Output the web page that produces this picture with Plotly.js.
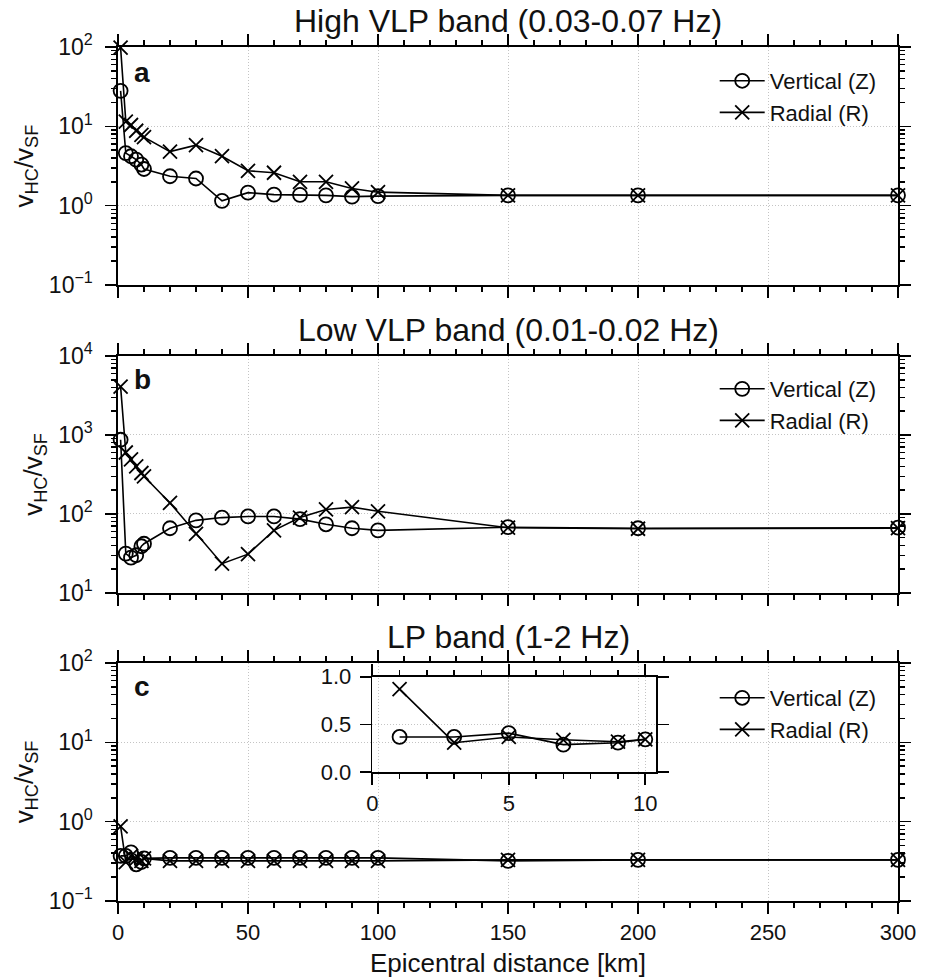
<!DOCTYPE html>
<html>
<head>
<meta charset="utf-8">
<script src="https://cdn.plot.ly/plotly-3.0.1.min.js"></script>
<style>html,body{margin:0;padding:0;background:#fff;}#chart{width:927px;height:980px;}</style>
</head>
<body>
<div id="chart"></div>
<script>
// ---- data ----
const distance = [1, 3, 5, 7, 9, 10, 20, 30, 40, 50, 60, 70, 80, 90, 100, 150, 200, 300];
const insetDistance = [1, 3, 5, 7, 9, 10];

const highVertical = [28, 4.6, 4.2, 3.8, 3.3, 2.9, 2.35, 2.2, 1.15, 1.46, 1.38, 1.37, 1.35, 1.3, 1.32, 1.35, 1.35, 1.35];
const highRadial   = [98, 11.5, 10.4, 8.8, 7.8, 7.3, 4.8, 5.8, 4.2, 2.75, 2.6, 2.0, 2.0, 1.65, 1.48, 1.35, 1.35, 1.35];

const lowVertical = [870, 31.5, 28, 30, 39, 42, 66, 83, 90, 93, 93, 86, 74, 66, 62, 68, 66, 67];
const lowRadial   = [4100, 600, 490, 400, 330, 300, 138, 56, 23.5, 31, 62, 90, 114, 122, 108, 67, 65, 66];

const lpVertical = [0.37, 0.37, 0.41, 0.29, 0.31, 0.345, 0.35, 0.35, 0.35, 0.35, 0.35, 0.35, 0.35, 0.35, 0.35, 0.32, 0.33, 0.33];
const lpRadial   = [0.87, 0.31, 0.37, 0.34, 0.32, 0.345, 0.32, 0.32, 0.32, 0.32, 0.32, 0.32, 0.32, 0.32, 0.32, 0.33, 0.33, 0.33];

const insetVertical = [0.37, 0.37, 0.41, 0.29, 0.31, 0.345];
const insetRadial   = [0.87, 0.31, 0.37, 0.34, 0.32, 0.345];

const seriesNames = ['Vertical (Z)', 'Radial (R)'];
const panelTitles = ['High VLP band (0.03-0.07 Hz)', 'Low VLP band (0.01-0.02 Hz)', 'LP band (1-2 Hz)'];
const panelLetters = ['a', 'b', 'c'];

const xTickVals = [0, 50, 100, 150, 200, 250, 300];
const xTickText = ['0', '50', '100', '150', '200', '250', '300'];
const xMinorTickVals = [10, 20, 30, 40, 60, 70, 80, 90, 110, 120, 130, 140, 160, 170, 180, 190, 210, 220, 230, 240, 260, 270, 280, 290];
const yTickValsA = [0.1, 1, 10, 100];
const yTickTextA = ['10<sup>\u22121</sup>', '10<sup>0</sup>', '10<sup>1</sup>', '10<sup>2</sup>'];
const yTickValsB = [10, 100, 1000, 10000];
const yTickTextB = ['10<sup>1</sup>', '10<sup>2</sup>', '10<sup>3</sup>', '10<sup>4</sup>'];
const minorDigits = [2, 3, 4, 5, 6, 7, 8, 9];
const insetXTickVals = [0, 5, 10];
const insetXTickText = ['0', '5', '10'];
const insetXMinorTickVals = [1, 2, 3, 4, 6, 7, 8, 9];
const insetYTickVals = [0, 0.5, 1.0];
const insetYTickText = ['0.0', '0.5', '1.0'];

const xTitle = 'Epicentral distance [km]';
const yTitle = 'v<sub>HC</sub>/v<sub>SF</sub>';

function minorLog(decades) {
  const out = [];
  decades.forEach(d => minorDigits.forEach(m => out.push(m * d)));
  return out;
}

const FONT = 'Liberation Sans, Arial, Helvetica, sans-serif';
const vStyle = {mode: 'lines+markers', line: {color: '#000', width: 1.6},
  marker: {symbol: 'circle-open', size: 14, color: '#000', line: {width: 1.8, color: '#000'}}};
const rStyle = {mode: 'lines+markers', line: {color: '#000', width: 1.6},
  marker: {symbol: 'x-thin-open', size: 14, color: '#000', line: {width: 1.8, color: '#000'}}};

function tr(style, x, y, name, xa, ya, legend, show) {
  return Object.assign({}, style, {x: x, y: y, name: name, xaxis: xa, yaxis: ya,
    legend: legend, showlegend: show, type: 'scatter', cliponaxis: false});
}
function carrier(xa, ya) {
  return {type: 'scatter', mode: 'markers', x: [null], y: [null], xaxis: xa, yaxis: ya,
    showlegend: false, hoverinfo: 'skip', marker: {opacity: 0}};
}

const data = [
  tr(vStyle, distance, highVertical, seriesNames[0], 'x', 'y', 'legend', true),
  tr(rStyle, distance, highRadial, seriesNames[1], 'x', 'y', 'legend', true),
  tr(vStyle, distance, lowVertical, seriesNames[0], 'x2', 'y2', 'legend2', true),
  tr(rStyle, distance, lowRadial, seriesNames[1], 'x2', 'y2', 'legend2', true),
  tr(vStyle, distance, lpVertical, seriesNames[0], 'x3', 'y3', 'legend3', true),
  tr(rStyle, distance, lpRadial, seriesNames[1], 'x3', 'y3', 'legend3', true),
  tr(vStyle, insetDistance, insetVertical, seriesNames[0], 'x4', 'y4', 'legend', false),
  tr(rStyle, insetDistance, insetRadial, seriesNames[1], 'x4', 'y4', 'legend', false),
  carrier('x5', 'y'), carrier('x6', 'y2'), carrier('x7', 'y3'), carrier('x8', 'y4'),
  carrier('x', 'y5'), carrier('x2', 'y6'), carrier('x3', 'y7')
];

const gridStyle = {showgrid: true, gridcolor: '#c4c4c4', griddash: '1px,2px', gridwidth: 1};
const lineStyle = {showline: true, linecolor: '#000', linewidth: 1.6, mirror: 'ticks',
  ticks: 'outside', ticklen: 11, tickwidth: 1.6, tickcolor: '#000', zeroline: false,
  tickfont: {family: FONT, size: 22, color: '#111'}};

// built-in minor ticks (drawn on the mirrored top/right sides)
function minorSpec(vals) {
  return {tickmode: 'array', tickvals: vals, ticks: 'outside', ticklen: 5, tickwidth: 1.5, tickcolor: '#000', showgrid: false};
}
// free-positioned overlay axes carrying the minor ticks on the left/bottom spines
function minorAxis(base, type, range, vals, side, position) {
  return {overlaying: base, anchor: 'free', position: position, side: side, type: type, range: range,
    tickmode: 'array', tickvals: vals, showticklabels: false,
    ticks: 'outside', ticklen: 5, tickwidth: 1.5, tickcolor: '#000',
    showline: false, showgrid: false, zeroline: false, fixedrange: true};
}

function xAxis(domainAnchor, showLabels) {
  return Object.assign({}, lineStyle, gridStyle, {
    domain: [0, 1], anchor: domainAnchor, range: [0, 300],
    tickmode: 'array', tickvals: xTickVals, ticktext: xTickText,
    showticklabels: showLabels, minor: minorSpec(xMinorTickVals)
  });
}
function yAxis(domain, anchor, range, vals, text, mvals) {
  return Object.assign({}, lineStyle, gridStyle, {
    type: 'log', domain: domain, anchor: anchor, range: range,
    tickmode: 'array', tickvals: vals, ticktext: text,
    tickfont: {family: FONT, size: 23, color: '#111'}, ticklabelstandoff: 8,
    minor: minorSpec(mvals),
    title: {text: yTitle, font: {family: FONT, size: 26, color: '#111'}, standoff: 8}
  });
}

const domA = [0.7213, 1], domB = [0.3607, 0.6382], domC = [0, 0.2787], domInsetY = [0.1507, 0.2626];
const minorA = minorLog([0.1, 1, 10]), minorB = minorLog([10, 100, 1000]);

const layout = {
  width: 927, height: 980,
  margin: {l: 118, r: 29, t: 47, b: 79},
  paper_bgcolor: '#fff', plot_bgcolor: 'rgba(0,0,0,0)',
  font: {family: FONT, color: '#111'},
  xaxis: xAxis('y', false),
  xaxis2: xAxis('y2', false),
  xaxis3: Object.assign(xAxis('y3', true), {title: {text: xTitle, font: {family: FONT, size: 26, color: '#111'}, standoff: 10}}),
  yaxis: yAxis(domA, 'x', [-1, 2], yTickValsA, yTickTextA, minorA),
  yaxis2: yAxis(domB, 'x2', [1, 4], yTickValsB, yTickTextB, minorB),
  yaxis3: yAxis(domC, 'x3', [-1, 2], yTickValsA, yTickTextA, minorA),
  xaxis4: Object.assign({}, lineStyle, gridStyle, {
    domain: [0.326, 0.690], anchor: 'y4', range: [0, 10.4],
    tickmode: 'array', tickvals: insetXTickVals, ticktext: insetXTickText,
    tickfont: {family: FONT, size: 22, color: '#111'}, minor: minorSpec(insetXMinorTickVals)
  }),
  yaxis4: Object.assign({}, lineStyle, gridStyle, {
    domain: domInsetY, anchor: 'x4', range: [0, 1],
    tickmode: 'array', tickvals: insetYTickVals, ticktext: insetYTickText,
    tickfont: {family: FONT, size: 22, color: '#111'}, ticklabelstandoff: 4
  }),
  xaxis5: minorAxis('x', 'linear', [0, 300], xMinorTickVals, 'bottom', domA[0]),
  xaxis6: minorAxis('x2', 'linear', [0, 300], xMinorTickVals, 'bottom', domB[0]),
  xaxis7: minorAxis('x3', 'linear', [0, 300], xMinorTickVals, 'bottom', domC[0]),
  xaxis8: minorAxis('x4', 'linear', [0, 10.4], insetXMinorTickVals, 'bottom', domInsetY[0]),
  yaxis5: minorAxis('y', 'log', [-1, 2], minorA, 'left', 0),
  yaxis6: minorAxis('y2', 'log', [1, 4], minorB, 'left', 0),
  yaxis7: minorAxis('y3', 'log', [-1, 2], minorA, 'left', 0),
  legend: {x: 0.765, y: 0.9848, xanchor: 'left', yanchor: 'top', bgcolor: 'rgba(0,0,0,0)',
    font: {family: FONT, size: 22, color: '#111'}, itemwidth: 45, tracegroupgap: 0},
  legend2: {x: 0.765, y: 0.6241, xanchor: 'left', yanchor: 'top', bgcolor: 'rgba(0,0,0,0)',
    font: {family: FONT, size: 22, color: '#111'}, itemwidth: 45, tracegroupgap: 0},
  legend3: {x: 0.765, y: 0.2623, xanchor: 'left', yanchor: 'top', bgcolor: 'rgba(0,0,0,0)',
    font: {family: FONT, size: 22, color: '#111'}, itemwidth: 45, tracegroupgap: 0},
  annotations: []
};

const doms = [domA, domB, domC];
const letterY = [0.9707, 0.6101, 0.2506];
for (let i = 0; i < 3; i++) {
  layout.annotations.push({text: panelTitles[i], xref: 'paper', yref: 'paper', x: 0.5, y: doms[i][1],
    xanchor: 'center', yanchor: 'bottom', yshift: 6, showarrow: false,
    font: {family: FONT, size: 32, color: '#111'}});
  layout.annotations.push({text: '<b>' + panelLetters[i] + '</b>', xref: 'paper', yref: 'paper',
    x: 0.031, y: letterY[i], xanchor: 'center', yanchor: 'middle', showarrow: false,
    font: {family: FONT, size: 28, color: '#111'}});
}

Plotly.newPlot('chart', data, layout, {staticPlot: true, displayModeBar: false});
</script>
</body>
</html>
